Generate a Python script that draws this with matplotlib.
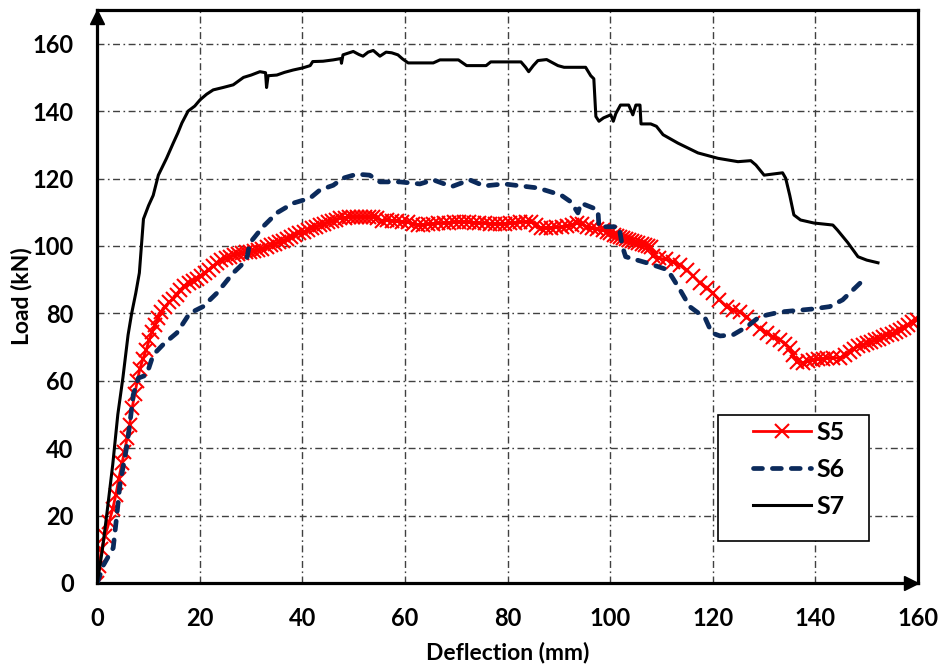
import matplotlib
matplotlib.use('Agg')
import matplotlib.pyplot as plt
from matplotlib.patches import Rectangle

plt.rcParams['font.family'] = ['Lato', 'DejaVu Sans']
plt.rcParams['font.weight'] = 'bold'
plt.rcParams['axes.labelweight'] = 'bold'

# ---------------- data ----------------
s5_x = [0, 0.4, 0.8, 1.5, 2.3, 3.0, 3.6, 4.2, 4.8, 5.3,
        5.8, 6.3, 6.8, 7.3, 7.8, 8.3, 8.9, 9.5, 10.1, 10.7,
        11.3, 11.9, 12.5, 13.2, 14.0, 14.8, 15.5, 16.2, 17.0, 17.8,
        18.6, 19.4, 20.2, 21.0, 21.8, 22.6, 23.4, 24.2, 25.0, 25.8,
        26.6, 27.4, 28.2, 29.0, 29.8, 30.6, 31.4, 32.2, 33.0, 33.8,
        34.6, 35.4, 36.2, 37.0, 37.8, 38.6, 39.4, 40.2, 41.0, 41.8,
        42.6, 43.4, 44.2, 45.0, 45.8, 46.6, 47.4, 48.2, 49.0, 49.8,
        50.6, 51.4, 52.2, 53.0, 53.8, 54.6, 55.5, 56.5, 57.5, 58.5,
        59.5, 60.5, 61.5, 62.5, 63.5, 64.5, 65.5, 66.5, 67.5, 68.5,
        69.5, 70.5, 71.5, 72.5, 73.5, 74.5, 75.5, 76.5, 77.5, 78.5,
        79.5, 80.5, 81.5, 82.5, 83.5, 84.5, 85.5, 86.5, 87.5, 88.5,
        89.5, 90.5, 91.5, 92.5, 93.5, 94.5, 95.5, 96.5, 97.5, 98.5,
        99.3, 100.0, 100.7, 101.3, 101.9, 102.5, 103.1, 103.7, 104.3, 104.9,
        105.5, 106.1, 106.7, 107.3, 107.9, 108.3, 109.5, 110.8, 112.3, 113.6,
        114.9, 116.2, 117.5, 118.8, 120.0, 121.3, 122.7, 124.0, 125.3, 126.6,
        127.9, 129.2, 130.5, 131.8, 133.1, 134.1, 135.0, 135.7, 136.4, 137.6,
        138.5, 139.5, 140.5, 141.4, 142.2, 143.5, 144.8, 145.8, 146.7, 147.5,
        148.3, 149.2, 150.0, 150.8, 151.6, 152.4, 153.2, 154.0, 154.9, 155.7,
        156.5, 157.3, 158.1, 158.9, 159.8]
s5_y = [0, 5, 10, 14, 18, 22, 26, 31, 35.5, 39,
        43, 47, 52, 56, 60, 63.5, 66.5, 69, 72, 74.5,
        76.5, 78.5, 80.5, 82, 83.3, 84.3, 85.5, 87, 88, 89,
        89.6, 90.3, 91, 92, 93, 94, 95, 95.7, 96.3, 96.8,
        97.3, 97.7, 97.9, 98.1, 98.3, 98.5, 98.8, 99.2, 99.7, 100.2,
        100.7, 101.1, 101.5, 102, 102.6, 103.2, 103.7, 104.2, 104.7, 105.2,
        105.7, 106.1, 106.5, 107, 107.4, 107.8, 108.2, 108.4, 108.5, 108.6,
        108.7, 108.7, 108.6, 108.6, 108.5, 108.3, 107.5, 107.7, 107.5, 107.4,
        107.2, 107, 106.6, 106.3, 106.2, 106.4, 106.6, 106.7, 106.8, 106.9,
        107, 107.1, 107.1, 107, 106.9, 106.8, 106.7, 106.6, 106.6, 106.5,
        106.5, 106.7, 106.9, 107.1, 107.2, 107.1, 106.3, 105.3, 105.3, 105.4,
        105.5, 105.6, 105.9, 106.3, 106.7, 106.4, 105.7, 105.2, 105, 104.7,
        104.2, 103.8, 103.3, 103, 102.7, 102.4, 102.1, 101.9, 101.6, 101.2,
        100.9, 100.5, 100.2, 99.9, 99.6, 97, 96.4, 96, 95.3, 94.2,
        92.9, 91, 89, 87.5, 86, 84, 82, 81, 80.4, 78.8,
        77.1, 75.5, 74.2, 73, 72.1, 71, 69.7, 67.5, 65.6, 65.3,
        65.8, 66.2, 66.4, 66.6, 66.8, 66.8, 66.8, 67.5, 68.5, 69.5,
        70.2, 70.7, 71.2, 71.6, 72.1, 72.5, 73, 73.5, 74, 74.6,
        75.1, 75.8, 76.6, 77.3, 78]

s6_x = [0, 1.2, 2.2, 3.1, 3.8, 4.4, 5.1, 5.8, 6.4, 7.0,
        8.0, 9.6, 10.9, 13.0, 15.5, 18.0, 20.6, 23.3, 26.5, 29.1,
        29.7, 32.3, 35.0, 38.2, 41.5, 43.4, 46.0, 47.9, 50.6, 53.1,
        55.1, 59.0, 62.9, 65.5, 69.1, 72.6, 75.4, 79.3, 85.9, 90.4,
        92.3, 93.7, 94.3, 97.6, 97.8, 101.7, 102.4, 103.0, 107.3, 111.2,
        113.6, 115.5, 118.5, 119.8, 121.4, 123.9, 126.6, 129.1, 133.1, 139.5,
        142.8, 145.3, 149.0]
s6_y = [0, 5.3, 8, 10.4, 20, 29, 35, 41, 48, 55.8,
        60.8, 61.7, 67.7, 71, 74.2, 80, 82, 86, 92, 95.8,
        100.8, 105.7, 109.8, 112.7, 114.2, 116.6, 118, 120.1, 121.3, 121,
        119, 119, 118.4, 119.6, 117.6, 119.6, 117.8, 118.4, 117.2, 115.1,
        113.1, 109.8, 112.7, 110.7, 105.7, 105.7, 99.7, 96.8, 94.9, 92.9,
        87, 82, 78.6, 74.2, 73.3, 73.6, 76, 79, 80.4, 81.3,
        82, 84, 89.4]

s7_x = [0, 1.0, 1.9, 3.0, 4.0, 5.0, 6.0, 6.7, 7.5, 8.2,
        8.6, 9.0, 10.0, 10.9, 11.9, 12.7, 13.5, 14.8, 15.7, 16.5,
        17.7, 19.0, 20.0, 21.3, 22.6, 24.5, 26.5, 28.5, 30.0, 31.7,
        32.8, 33.0, 33.3, 35.0, 36.5, 38.2, 40.0, 41.5, 42.0, 44.0,
        46.0, 47.5, 47.6, 47.9, 49.9, 51.0, 51.8, 52.8, 53.8, 55.1,
        56.3, 57.4, 58.6, 59.5, 60.6, 63.0, 65.5, 66.8, 68.5, 70.4,
        72.0, 74.0, 75.8, 76.7, 80.0, 82.6, 83.5, 84.1, 85.0, 85.9,
        87.6, 89.8, 91.0, 93.0, 95.2, 96.2, 96.8, 97.0, 97.2, 97.8,
        98.7, 100.1, 100.6, 101.1, 102.0, 103.6, 104.4, 105.0, 105.8, 106.0,
        107.9, 109.0, 110.3, 113.2, 117.1, 121.0, 124.9, 127.4, 128.4, 130.0,
        133.6, 134.2, 135.0, 135.8, 137.1, 139.7, 143.4, 144.3, 146.3, 148.3,
        150.0, 152.2]
s7_y = [0, 10, 21, 35, 50, 61, 73.6, 80, 86, 92,
        100, 108, 112, 115, 121, 123.5, 126, 130.5, 133.5, 136.5,
        140, 141.5, 143.3, 145, 146.3, 147, 147.8, 150, 150.7, 151.7,
        151.4, 147, 150.5, 150.7, 151.5, 152.2, 152.8, 153.5, 154.7, 154.8,
        155.2, 155.6, 154.2, 156.7, 157.7, 156.8, 156.3, 157.5, 158, 156.3,
        157.5, 157.3, 156.7, 155.5, 154.3, 154.3, 154.3, 155.2, 155.2, 155.2,
        153.5, 153.5, 153.5, 154.6, 154.6, 154.6, 153, 151.7, 153.5, 155,
        155.3, 153.5, 153, 153, 153, 150.5, 149.6, 144, 138.4, 137,
        138, 138.9, 137, 139.3, 141.8, 141.8, 138.9, 141.8, 141.8, 136.2,
        136.2, 135.5, 133, 130.5, 127.6, 126, 125, 125.3, 124, 121,
        121.7, 120.1, 115, 109.2, 107.7, 106.8, 106.2, 104.7, 101, 96.8,
        95.8, 95]

series_labels = ['S5', 'S6', 'S7']
x_ticks = [0, 20, 40, 60, 80, 100, 120, 140, 160]
y_ticks = [0, 20, 40, 60, 80, 100, 120, 140, 160]
x_label = 'Deflection (mm)'
y_label = 'Load (kN)'

# ---------------- figure ----------------
W, H = 942, 670
fig = plt.figure(figsize=(W / 100, H / 100), dpi=100)
ax_l, ax_r, ax_b, ax_t = 97.3, 918.0, 583.0, 10.0
ax = fig.add_axes([ax_l / W, 1 - ax_b / H, (ax_r - ax_l) / W, (ax_b - ax_t) / H])
ax.set_xlim(0, 160)
ax.set_ylim(0, 170)
ax.set_xticks(x_ticks)
ax.set_yticks(y_ticks)
ax.tick_params(length=0, pad=17, labelsize=17)
for lab in ax.get_xticklabels() + ax.get_yticklabels():
    lab.set_fontweight('bold')
ax.set_axisbelow(True)
ax.grid(True, color='#404040', lw=1.0, linestyle=(0, (5, 2.5, 1.2, 2.5)))

for s in ax.spines.values():
    s.set_linewidth(2.3)
    s.set_color('black')

ax.plot(s5_x, s5_y, color='#FF0000', lw=2.0, marker='x', ms=9.5, mew=1.5,
        label=series_labels[0], zorder=2)
ax.plot(s6_x, s6_y, color='#0B2A5B', lw=3.4, dashes=(1.9, 2.1),
        dash_capstyle='round', label=series_labels[1], zorder=3)
ax.plot(s7_x, s7_y, color='black', lw=2.2, label=series_labels[2], zorder=3)

# axis arrows
axw, axh = ax_r - ax_l, ax_b - ax_t
ax.plot([0], [1 - 7.0 / axh], marker='^', ms=10, color='black',
        transform=ax.transAxes, clip_on=False, zorder=6)
ax.plot([1 - 7.0 / axw], [0], marker='>', ms=10, color='black',
        transform=ax.transAxes, clip_on=False, zorder=6)

ax.set_xlabel(x_label, fontsize=16.5, fontweight='bold', labelpad=9)
ax.set_ylabel(y_label, fontsize=16.5, fontweight='bold', labelpad=0)

# legend frame
lx0, lx1, ly_top, ly_bot = 718, 869, 415, 541
ax.add_patch(Rectangle(((lx0 - ax_l) / axw, (ax_b - ly_bot) / axh),
                       (lx1 - lx0) / axw, (ly_bot - ly_top) / axh,
                       transform=ax.transAxes, fc='white', ec='black',
                       lw=1.2, zorder=4))
leg = ax.legend(loc='upper left',
                bbox_to_anchor=((753 - ax_l) / axw, (ax_b - 421) / axh),
                frameon=False, borderpad=0, borderaxespad=0,
                handlelength=2.3, handletextpad=0.25, labelspacing=0.55,
                prop={'size': 18, 'weight': 'bold'})
leg.set_zorder(5)

fig.savefig('out.png', dpi=100)
